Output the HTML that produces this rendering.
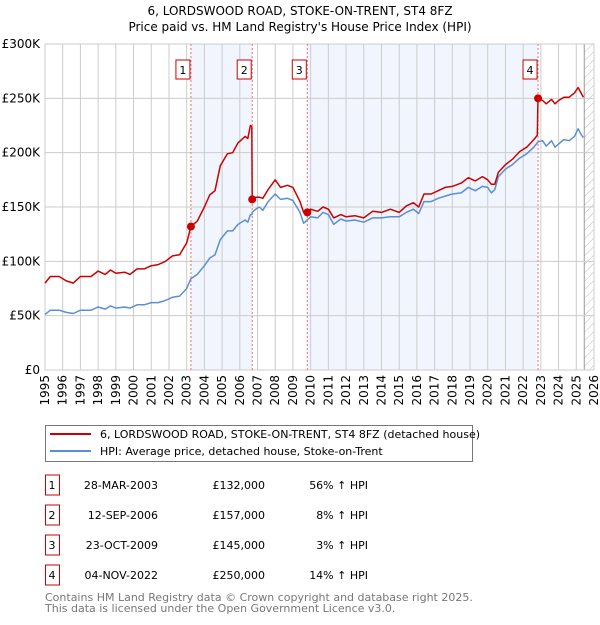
<!DOCTYPE html>
<html><head><meta charset="utf-8"><style>
body{margin:0;background:#fff;}
svg text{font-family:"DejaVu Sans","Liberation Sans",sans-serif;}
</style></head><body>
<svg width="600" height="620" viewBox="0 0 600 620" xmlns="http://www.w3.org/2000/svg">
<defs>
<pattern id="hatch" width="6" height="6" patternUnits="userSpaceOnUse" patternTransform="rotate(45)">
<line x1="0" y1="0" x2="0" y2="6" stroke="#bbb" stroke-width="1"/>
</pattern>
</defs>
<text x="300" y="15" text-anchor="middle" font-size="12">6, LORDSWOOD ROAD, STOKE-ON-TRENT, ST4 8FZ</text>
<text x="300" y="31" text-anchor="middle" font-size="12">Price paid vs. HM Land Registry's House Price Index (HPI)</text>
<g id="plot"></g>
<g id="legend">
<rect x="45.5" y="425.5" width="427" height="36" fill="#fff" stroke="#777"/>
<line x1="50" y1="434" x2="91" y2="434" stroke="#cc0000" stroke-width="2"/>
<text x="100" y="438" font-size="11">6, LORDSWOOD ROAD, STOKE-ON-TRENT, ST4 8FZ (detached house)</text>
<line x1="50" y1="451" x2="91" y2="451" stroke="#5b8fd4" stroke-width="2"/>
<text x="100" y="455" font-size="11">HPI: Average price, detached house, Stoke-on-Trent</text>
</g>
<g id="table"></g>
<text x="45" y="601" font-size="11" fill="#777">Contains HM Land Registry data © Crown copyright and database right 2025.</text>
<text x="45" y="612" font-size="11" fill="#777">This data is licensed under the Open Government Licence v3.0.</text>
</svg>
<script>
const years=[1995,1995.3,1995.8,1996.2,1996.6,1997.0,1997.6,1998.0,1998.4,1998.7,1999.0,1999.5,1999.8,2000.2,2000.6,2001.0,2001.4,2001.8,2002.2,2002.6,2003.0,2003.24,2003.6,2004.0,2004.3,2004.6,2004.9,2005.3,2005.6,2005.9,2006.3,2006.45,2006.6,2006.68,2006.7,2006.9,2007.1,2007.3,2007.6,2008.0,2008.3,2008.7,2009.0,2009.4,2009.6,2009.8,2010.0,2010.4,2010.7,2011.0,2011.3,2011.7,2012.0,2012.5,2013.0,2013.5,2014.0,2014.5,2015.0,2015.4,2015.8,2016.1,2016.4,2016.8,2017.2,2017.6,2018.0,2018.5,2018.9,2019.3,2019.7,2020.0,2020.2,2020.4,2020.6,2021.0,2021.4,2021.8,2022.2,2022.6,2022.8,2022.84,2023.1,2023.3,2023.6,2023.8,2024.0,2024.3,2024.6,2024.9,2025.1,2025.3,2025.4];
const hpi=[51,55,55,53,52,55,55,58,56,59,57,58,57,60,60,62,62,64,67,68,75,84,88,96,103,106,120,128,128,134,138,136,143,143,145,148,150,147,155,162,157,158,156,145,135,138,141,140,145,143,134,139,137,138,136,140,140,141,141,145,148,144,155,155,158,160,162,163,168,165,169,168,163,166,178,185,189,195,199,205,209,210,211,206,211,205,208,212,211,215,222,216,214];
const priceLine=[80,86,86,82,80,86,86,91,88,92,89,90,88,93,93,96,97,100,105,106,117,132,137,150,161,165,188,199,200,209,215,213,225,224,157,159,159,158,166,175,168,170,168,155,145,145,148,146,150,148,140,143,141,142,140,146,145,148,145,151,154,150,162,162,165,168,169,172,177,174,178,175,171,171,182,189,194,201,205,212,216,250,248,245,249,245,248,251,251,255,260,254,251];
const saleLabels=["1","2","3","4"];
const saleDates=[2003.24,2006.7,2009.81,2022.84];
const salePrices=[132,157,145,250];
const saleDateText=["28-MAR-2003","12-SEP-2006","23-OCT-2009","04-NOV-2022"];
const salePriceText=["£132,000","£157,000","£145,000","£250,000"];
const saleHpiText=["56% ↑ HPI","8% ↑ HPI","3% ↑ HPI","14% ↑ HPI"];
const yTicks=[0,50,100,150,200,250,300];
const yTickLabels=["£0","£50K","£100K","£150K","£200K","£250K","£300K"];
const xTicks=[1995,1996,1997,1998,1999,2000,2001,2002,2003,2004,2005,2006,2007,2008,2009,2010,2011,2012,2013,2014,2015,2016,2017,2018,2019,2020,2021,2022,2023,2024,2025,2026];

const NS="http://www.w3.org/2000/svg";
const X0=45,X1=594,Y0=370,Y1=44;
const xs=t=>X0+(t-1995)/(2026-1995)*(X1-X0);
const ys=v=>Y0-v/300*(Y0-Y1);
const plot=document.getElementById('plot');
function mk(tag,attrs,parent){const e=document.createElementNS(NS,tag);for(const k in attrs)e.setAttribute(k,attrs[k]);(parent||plot).appendChild(e);return e;}

let e=mk('rect',{x:X0,y:Y1,width:X1-X0,height:Y0-Y1,fill:'#fff'});


// shaded spans
for(const [a,b] of [[0,1],[2,3]]){
 e=mk('rect',{x:xs(saleDates[a]),y:Y1,width:xs(saleDates[b])-xs(saleDates[a]),height:Y0-Y1,fill:'#eef2fc',opacity:0.8});
 
 
}
e=mk('rect',{x:xs(2025.45),y:Y1,width:X1-xs(2025.45),height:Y0-Y1,fill:'url(#hatch)'});


mk('line',{x1:xs(2025.45),x2:xs(2025.45),y1:Y1,y2:Y0,stroke:'#999','stroke-width':1});
// grid
xTicks.forEach(t=>{
 const l=mk('line',{x1:xs(t),x2:xs(t),y1:Y1,y2:Y0,stroke:'#ccc','stroke-width':1});
 
 
 const tx=mk('text',{x:0,y:0,'font-size':12,'text-anchor':'end',transform:`translate(${xs(t)+4},${Y0+5}) rotate(-90)`});
 tx.textContent=t;
 
 
});
yTicks.forEach((v,i)=>{
 const l=mk('line',{x1:X0,x2:X1,y1:ys(v),y2:ys(v),stroke:'#ccc','stroke-width':1});
 
 
 const tx=mk('text',{x:40,y:ys(v)+4,'font-size':12,'text-anchor':'end'});
 tx.textContent=yTickLabels[i];
 
 
});
mk('rect',{x:X0,y:Y1,width:X1-X0,height:Y0-Y1,fill:'none',stroke:'#ccc'});
// sale vlines
saleDates.forEach((d,i)=>{
 const l=mk('line',{x1:xs(d),x2:xs(d),y1:Y1,y2:Y0,stroke:'#f07070','stroke-width':1,'stroke-dasharray':'2,2'});
 
 
 const r=mk('rect',{x:xs(d)-15,y:60,width:14,height:19,fill:'#fff',stroke:'#cc0000'});
 
 
 const tx=mk('text',{x:xs(d)-8,y:74,'font-size':11,'text-anchor':'middle'});
 tx.textContent=saleLabels[i];
 
 
});
function path(vals,color,name){
 const d=years.map((t,i)=>(i?'L':'M')+xs(t).toFixed(1)+','+ys(vals[i]).toFixed(1)).join('');
 const p=mk('path',{d,fill:'none',stroke:color,'stroke-width':1.5,'stroke-linejoin':'round'});
 
 
}
path(hpi,'#5b8fd4','hpi-line');
path(priceLine,'#cc0000','price-paid-line');
saleDates.forEach((d,i)=>{
 const c=mk('circle',{cx:xs(d),cy:ys(salePrices[i]),r:4,fill:'#cc0000'});
 
 
});
// table
const tb=document.getElementById('table');
saleLabels.forEach((lab,i)=>{
 const cy=485+i*30;
 const r=mk('rect',{x:45.5,y:cy-10,width:14,height:20,fill:'#fff',stroke:'#cc0000'},tb);
 
 
 const cells=[[52,'middle',lab],[158,'end',saleDateText[i]],[265,'end',salePriceText[i]],[368,'end',saleHpiText[i]]];
 cells.forEach(([x,a,s],j)=>{
  const t=mk('text',{x,y:cy+4,'font-size':11,'text-anchor':a},tb);
  t.textContent=s;
  
  
 });
});
</script>
</body></html>
